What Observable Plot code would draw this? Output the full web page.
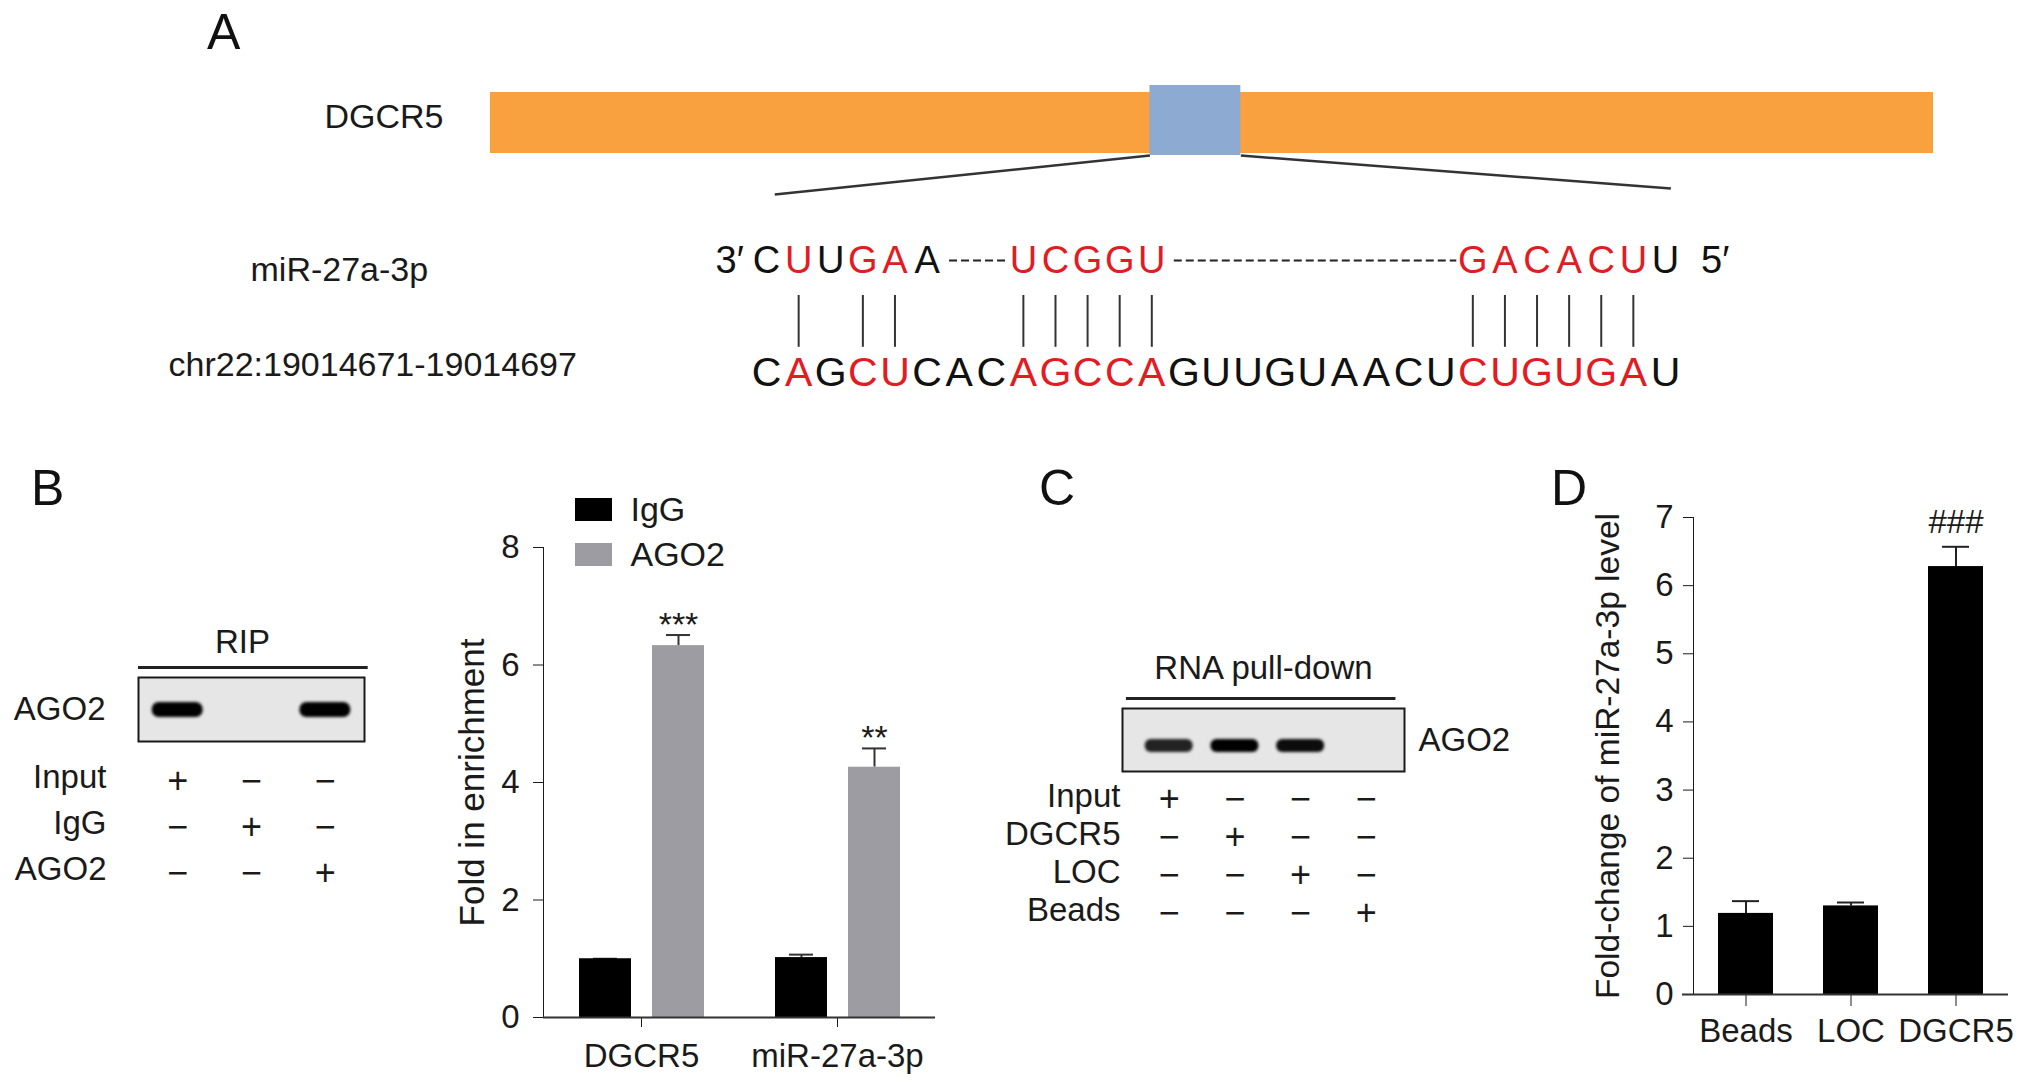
<!DOCTYPE html>
<html><head><meta charset="utf-8">
<script src="https://cdn.jsdelivr.net/npm/d3@7"></script>
<script src="https://cdn.jsdelivr.net/npm/@observablehq/plot@0.6"></script>
<style>
html,body{margin:0;padding:0;background:#fff;}
#fig{position:relative;width:2032px;height:1086px;overflow:hidden;background:#fff;}
.pane{position:absolute;}
.pane svg{display:block;max-width:none !important;}
</style></head><body><div id="fig"></div>
<script>
// ---------------- data ----------------
const transcriptSpan = [0, 100];          // DGCR5 transcript (schematic % length)
const siteSpan = [45.7, 52.0];             // miR-27a-3p binding site
const zoomSpan = [19.7, 81.8];             // extent of the zoomed alignment
const geneLabel = "DGCR5";
const mirLabel = "miR-27a-3p";
const targetLabel = "chr22:19014671-19014697";
const mirAligned = "CUUGAA--UCGGU---------GACACUU";   // 3'->5', gaps as '-'
const targetSeq  = "CAGCUCACAGCCAGUUGUAACUCUGUGAU";
const pairedIdx = [1,3,4,8,9,10,11,12,22,23,24,25,26,27];
const mirEnds = [{label: "3\u2032", pos: -1.15}, {label: "5\u2032", pos: 29.55}];

const ripLanes = ["Input", "IgG", "AGO2"];
const ripBand  = [1, 0, 1];
const ripRows  = ["Input", "IgG", "AGO2"];
const ripDesign = [[1,0,0],[0,1,0],[0,0,1]];

const pdLanes = ["Input", "DGCR5", "LOC", "Beads"];
const pdBand  = [0.85, 1, 0.95, 0];
const pdRows  = ["Input", "DGCR5", "LOC", "Beads"];
const pdDesign = [[1,0,0,0],[0,1,0,0],[0,0,1,0],[0,0,0,1]];

const genesB = ["DGCR5", "miR-27a-3p"];
const seriesB = ["IgG", "AGO2"];
const igGMean = [1.00, 1.02];
const igGErr  = [0.00, 0.05];
const ago2Mean = [6.33, 4.26];
const ago2Err  = [0.18, 0.32];
const sigB = ["***", "**"];
const colorsB = ["#000000", "#9c9ca2"];

const catsD = ["Beads", "LOC", "DGCR5"];
const meanD = [1.19, 1.30, 6.28];
const errD  = [0.18, 0.05, 0.29];
const sigD  = ["", "", "###"];

// ---------------- helpers ----------------
const FONT = '"Liberation Sans", Arial, Helvetica, sans-serif';
const RED = "#e31b23";
const fig = document.getElementById("fig");
function baseStyle(size) {
  return {fontFamily: FONT, fontSize: size + "px", background: "transparent", overflow: "visible", color: "#1a1a1a"};
}
function place(node, left, top) {
  const d = document.createElement("div");
  d.className = "pane";
  d.style.left = left + "px";
  d.style.top = top + "px";
  d.appendChild(node);
  fig.appendChild(d);
  return node;
}
function blurBands(svg, id, sd) {
  const s = d3.select(svg);
  s.append("defs").append("filter").attr("id", id).attr("x", "-20%").attr("y", "-60%").attr("width", "140%").attr("height", "220%")
    .append("feGaussianBlur").attr("stdDeviation", sd);
  s.selectAll('g[aria-label="bar"]').attr("filter", `url(#${id})`);
}
function axisLabelSize(svg, px) {
  d3.select(svg).selectAll('g[aria-label="y-axis label"] text').attr("font-size", px);
}

// ---------------- Panel A: transcript ----------------
const links = [
  {x1: siteSpan[0], y1: -0.033, x2: zoomSpan[0], y2: -0.672},
  {x1: siteSpan[1], y1: -0.033, x2: zoomSpan[1], y2: -0.574}
];
place(Plot.plot({
  width: 2032, height: 200, marginLeft: 490, marginRight: 99, marginTop: 0, marginBottom: 0,
  style: baseStyle(34),
  x: {domain: transcriptSpan, axis: null},
  y: {domain: [0, 1], range: [153, 92], axis: null},
  marks: [
    Plot.rect([transcriptSpan], {x1: d => d[0], x2: d => d[1], y1: 0, y2: 1, fill: "#f9a03f"}),
    Plot.link(links, {x1: "x1", y1: "y1", x2: "x2", y2: "y2", stroke: "#333", strokeWidth: 2.5}),
    Plot.rect([siteSpan], {x1: d => d[0], x2: d => d[1], y1: -0.033, y2: 1.115, fill: "#8daad2"}),
    Plot.text([geneLabel], {x: transcriptSpan[0], y: 0.6, text: d => d, textAnchor: "end", dx: -47, fontSize: 34})
  ]
}), 0, 0);

// ---------------- Panel A: alignment ----------------
const rowMir = Array.from(mirAligned, (ch, i) => ({i, ch, red: pairedIdx.includes(i)})).filter(d => d.ch !== "-");
const rowTgt = Array.from(targetSeq, (ch, i) => ({i, ch, red: pairedIdx.includes(i)}));
const gaps = [];
for (let i = 0; i < mirAligned.length; i++) {
  if (mirAligned[i] === "-") {
    let j = i;
    while (j + 1 < mirAligned.length && mirAligned[j + 1] === "-") j++;
    gaps.push({start: i, end: j});
    i = j;
  }
}
place(Plot.plot({
  width: 2032, height: 210, marginLeft: 750, marginRight: 351, marginTop: 0, marginBottom: 0,
  style: baseStyle(34),
  x: {domain: [-0.5, 28.5], axis: null},
  y: {domain: [0, 2], range: [60, 172], axis: null},
  color: {type: "identity"},
  marks: [
    Plot.ruleY(gaps, {x1: d => d.start - 0.3, x2: d => d.end + 0.5, y: 0, stroke: "#222", strokeWidth: 2, strokeDasharray: "8,4"}),
    Plot.text(rowMir, {x: "i", y: 0, text: "ch", fill: d => d.red ? RED : "#111", fontSize: 38}),
    Plot.text(mirEnds, {x: "pos", y: 0, text: "label", fill: "#111", fontSize: 38}),
    Plot.ruleX(pairedIdx, {x: d => d, y1: 0.625, y2: 1.55, stroke: "#333", strokeWidth: 2}),
    Plot.text(rowTgt, {x: "i", y: 2, text: "ch", fill: d => d.red ? RED : "#111", fontSize: 41}),
    Plot.text([mirLabel], {frameAnchor: "left", y: 0.18, dx: -500, text: d => d, textAnchor: "start", fontSize: 34}),
    Plot.text([targetLabel], {frameAnchor: "left", y: 1.875, dx: -582, text: d => d, textAnchor: "start", fontSize: 34})
  ]
}), 0, 200);

// ---------------- Panel B: RIP blot ----------------
const ripBandData = ripLanes.map((l, i) => ({lane: i + 1, name: l, level: ripBand[i]})).filter(d => d.level > 0);
const ripBlot = Plot.plot({
  width: 400, height: 150, marginLeft: 138, marginRight: 36, marginTop: 77, marginBottom: 9,
  style: baseStyle(33),
  x: {domain: [0.47, 3.53], axis: null},
  y: {domain: ["AGO2"], padding: 0, axis: "left", tickSize: 0, tickPadding: 33, label: null},
  marks: [
    Plot.frame({fill: "#e6e6e6", stroke: "#1a1a1a", strokeWidth: 2}),
    Plot.barX(ripBandData, {x1: d => d.lane - 0.345, x2: d => d.lane + 0.345, y: () => "AGO2", fill: "#000", fillOpacity: "level", insetTop: 25, insetBottom: 24, rx: 7}),
    Plot.ruleY(["AGO2"], {y: d => d, x1: 0.47, x2: 3.58, dy: -42, stroke: "#222", strokeWidth: 3}),
    Plot.text(["RIP"], {frameAnchor: "top", lineAnchor: "middle", text: d => d, dx: -9, dy: -35, fontSize: 33})
  ]
});
blurBands(ripBlot, "blurB", 1.6);
place(ripBlot, 0, 600);

const ripCells = ripRows.flatMap((r, ri) => ripLanes.map((l, li) => ({row: r, lane: li + 1, on: ripDesign[ri][li]})));
place(Plot.plot({
  width: 400, height: 160, marginLeft: 138, marginRight: 36, marginTop: 36, marginBottom: 31,
  style: baseStyle(33),
  x: {domain: [0.47, 3.53], axis: null},
  y: {type: "point", domain: ripRows, padding: 0, axis: "left", tickSize: 0, tickPadding: 32, label: null},
  marks: [
    Plot.text(ripCells, {x: "lane", y: "row", text: d => d.on ? "+" : "\u2212", dy: 4, fontSize: 36})
  ]
}), 0, 740);

// ---------------- Panel B: bar chart ----------------
const tableB = genesB.flatMap((g, i) => [
  {gene: g, series: "IgG", mean: igGMean[i], err: igGErr[i], sig: ""},
  {gene: g, series: "AGO2", mean: ago2Mean[i], err: ago2Err[i], sig: sigB[i]}
]);
const chartB = Plot.plot({
  width: 520, height: 606, marginLeft: 102, marginRight: 25, marginTop: 67, marginBottom: 69,
  style: baseStyle(33),
  fx: {domain: genesB, padding: 0, axis: "bottom", label: null, tickSize: 10, tickPadding: 16},
  x: {domain: seriesB, paddingInner: 0.29, paddingOuter: 0.48, axis: null},
  y: {domain: [0, 8], ticks: 4, tickSize: 10, tickPadding: 14, line: true, label: "Fold in enrichment", labelAnchor: "center", labelOffset: 84, labelArrow: "none"},
  color: {domain: seriesB, range: colorsB},
  marks: [
    Plot.ruleX(tableB, {fx: "gene", x: "series", y1: "mean", y2: d => d.mean + d.err, stroke: "#333", strokeWidth: 2}),
    Plot.tickY(tableB, {fx: "gene", x: "series", y: d => d.mean + d.err, stroke: "#333", strokeWidth: 2, insetLeft: 14, insetRight: 14}),
    Plot.barY(tableB, {fx: "gene", x: "series", y: "mean", fill: "series"}),
    Plot.ruleY([0], {stroke: "#333", strokeWidth: 2}),
    Plot.text(tableB, {fx: "gene", x: "series", y: d => d.mean + d.err, text: "sig", dy: -10, fontSize: 34})
  ]
});
axisLabelSize(chartB, 35);
place(chartB, 440, 480);

// legend for B
place(Plot.plot({
  width: 250, height: 100, marginLeft: 30, marginRight: 174, marginTop: 17, marginBottom: 13,
  style: baseStyle(34),
  x: {domain: ["swatch"], axis: null},
  y: {domain: seriesB, paddingInner: 0.478, paddingOuter: 0, axis: "right", tickSize: 0, tickPadding: 14, label: null},
  color: {domain: seriesB, range: colorsB},
  marks: [Plot.cell(seriesB, {x: () => "swatch", y: d => d, fill: d => d})]
}), 540, 480);

// ---------------- Panel C: RNA pull-down blot ----------------
const pdBandData = pdLanes.map((l, i) => ({lane: i + 1, name: l, level: pdBand[i]})).filter(d => d.level > 0);
const pdBlot = Plot.plot({
  width: 560, height: 160, marginLeft: 122, marginRight: 156, marginTop: 88, marginBottom: 9,
  style: baseStyle(33),
  x: {domain: [0.29, 4.58], axis: null},
  y: {domain: ["AGO2"], padding: 0, axis: "right", tickSize: 0, tickPadding: 14, label: null},
  marks: [
    Plot.frame({fill: "#e6e6e6", stroke: "#1a1a1a", strokeWidth: 2}),
    Plot.barX(pdBandData, {x1: d => d.lane - 0.365, x2: d => d.lane + 0.365, y: () => "AGO2", fill: "#000", fillOpacity: "level", insetTop: 31, insetBottom: 19, rx: 6}),
    Plot.ruleY(["AGO2"], {y: d => d, x1: 0.35, x2: 4.45, dy: -41.5, stroke: "#222", strokeWidth: 3}),
    Plot.text(["RNA pull-down"], {frameAnchor: "top", lineAnchor: "middle", text: d => d, dy: -40, fontSize: 33})
  ]
});
blurBands(pdBlot, "blurC", 1.6);
place(pdBlot, 1000, 620);

const pdCells = pdRows.flatMap((r, ri) => pdLanes.map((l, li) => ({row: r, lane: li + 1, on: pdDesign[ri][li]})));
place(Plot.plot({
  width: 420, height: 180, marginLeft: 122, marginRight: 16, marginTop: 25, marginBottom: 40,
  style: baseStyle(33),
  x: {domain: [0.29, 4.58], axis: null},
  y: {type: "point", domain: pdRows, padding: 0, axis: "left", tickSize: 0, tickPadding: 2, label: null},
  marks: [
    Plot.text(pdCells, {x: "lane", y: "row", text: d => d.on ? "+" : "\u2212", dy: 3, fontSize: 36})
  ]
}), 1000, 770);

// ---------------- Panel D: bar chart ----------------
const tableD = catsD.map((c, i) => ({cat: c, mean: meanD[i], err: errD[i], sig: sigD[i]}));
const chartD = Plot.plot({
  width: 512, height: 626, marginLeft: 173, marginRight: 24, marginTop: 57, marginBottom: 92,
  style: baseStyle(33),
  x: {domain: catsD, paddingInner: 0.476, paddingOuter: 0.233, tickSize: 12, tickPadding: 12, label: null},
  y: {domain: [0, 7], ticks: 7, tickSize: 10, tickPadding: 10, line: true, label: "Fold-change of miR-27a-3p level", labelAnchor: "center", labelOffset: 98, labelArrow: "none"},
  marks: [
    Plot.ruleX(tableD, {x: "cat", y1: "mean", y2: d => d.mean + d.err, stroke: "#222", strokeWidth: 2}),
    Plot.tickY(tableD, {x: "cat", y: d => d.mean + d.err, stroke: "#222", strokeWidth: 2, insetLeft: 14, insetRight: 14}),
    Plot.barY(tableD, {x: "cat", y: "mean", fill: "#000"}),
    Plot.ruleY([0], {stroke: "#333", strokeWidth: 2, insetLeft: -11}),
    Plot.text(tableD, {x: "cat", y: d => d.mean + d.err, text: "sig", dy: -24, fontSize: 33})
  ]
});
axisLabelSize(chartD, 33.5);
place(chartD, 1520, 460);

// ---------------- panel letters ----------------
const panelLetters = [
  {t: "A", x: 207, y: 49},
  {t: "B", x: 31, y: 505},
  {t: "C", x: 1039, y: 505},
  {t: "D", x: 1551, y: 505}
];
const ov = d3.create("svg").attr("width", 2032).attr("height", 1086)
  .style("position", "absolute").style("left", "0px").style("top", "0px").style("pointer-events", "none");
ov.selectAll("text").data(panelLetters).join("text")
  .attr("x", d => d.x).attr("y", d => d.y).text(d => d.t)
  .attr("font-family", FONT).attr("font-size", 50).attr("fill", "#111");
fig.appendChild(ov.node());
</script>
</body></html>
